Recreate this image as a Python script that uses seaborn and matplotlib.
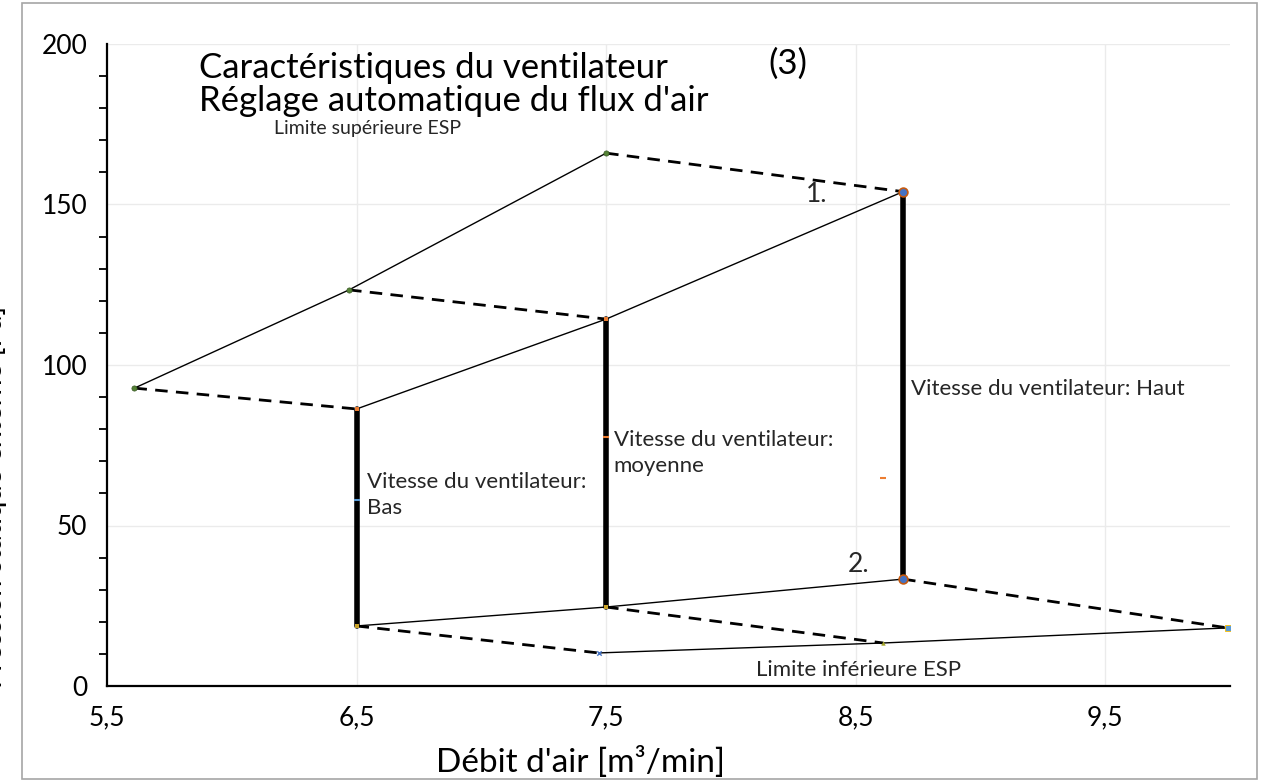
import numpy as np
import pandas as pd
import matplotlib
matplotlib.use("Agg")
import matplotlib.pyplot as plt
import matplotlib.patches as mpatches
from matplotlib.ticker import MultipleLocator, FuncFormatter
import seaborn as sns

# ---------------- data ----------------
upper_esp_x = [5.61, 6.47, 7.50]
upper_esp_y = [92.8, 123.4, 166.0]
top_curve_x = [6.50, 7.50, 8.69]
top_curve_y = [86.3, 114.3, 154.0]
bottom_curve_x = [6.50, 7.50, 8.69]
bottom_curve_y = [18.7, 24.6, 33.3]
lower_esp_x = [7.47, 8.61, 9.99]
lower_esp_y = [10.3, 13.4, 18.1]
mid_x = [6.50, 7.50, 8.61]
mid_y = [58.0, 77.6, 64.8]
mid_colors = ["#5b9bd5", "#ed7d31", "#ed7d31"]

x_ticks = [5.5, 6.5, 7.5, 8.5, 9.5]
y_ticks = [0, 50, 100, 150, 200]

title_lines = ["Caractéristiques du ventilateur", "Réglage automatique du flux d'air"]
speed_labels = ["Vitesse du ventilateur:\nBas", "Vitesse du ventilateur:\nmoyenne",
                "Vitesse du ventilateur: Haut"]

# ---------------- style ----------------
sns.set_theme(style="white")
plt.rcParams["font.family"] = ["Lato", "DejaVu Sans"]

W, H = 1274, 781
fig = plt.figure(figsize=(W / 100, H / 100), dpi=100)
ax = fig.add_axes([107 / W, 1 - 686 / H, (1230 - 107) / W, (686 - 44) / H])

ax.set_xlim(5.5, 10.0)
ax.set_ylim(0, 200)

grid_c = "#ebebeb"
for gx in x_ticks[1:]:
    ax.axvline(gx, color=grid_c, lw=1, zorder=0)
for gy in y_ticks[1:]:
    ax.axhline(gy, color=grid_c, lw=1, zorder=0)

solid_kw = dict(color="black", lw=1.0, sort=False, estimator=None)
dash_kw = dict(color="black", lw=2.0, sort=False, estimator=None,
               linestyle=(0, (4.5, 3)))

# thin solid curves
sns.lineplot(x=upper_esp_x, y=upper_esp_y, ax=ax, **solid_kw)
sns.lineplot(x=top_curve_x, y=top_curve_y, ax=ax, **solid_kw)
sns.lineplot(x=bottom_curve_x, y=bottom_curve_y, ax=ax, **solid_kw)
sns.lineplot(x=lower_esp_x, y=lower_esp_y, ax=ax, **solid_kw)

# dashed connectors and thick vertical fan speed lines
for i in range(3):
    sns.lineplot(x=[upper_esp_x[i], top_curve_x[i]], y=[upper_esp_y[i], top_curve_y[i]],
                 ax=ax, **dash_kw)
    sns.lineplot(x=[bottom_curve_x[i], lower_esp_x[i]], y=[bottom_curve_y[i], lower_esp_y[i]],
                 ax=ax, **dash_kw)
    sns.lineplot(x=[top_curve_x[i], bottom_curve_x[i]], y=[top_curve_y[i], bottom_curve_y[i]],
                 ax=ax, color="black", lw=4.0, sort=False, estimator=None)

# small markers
sns.scatterplot(x=upper_esp_x, y=upper_esp_y, ax=ax, color="#548235", s=14,
                edgecolor="#375623", linewidth=0.5, zorder=5)
sns.scatterplot(x=[top_curve_x[2], bottom_curve_x[2]], y=[top_curve_y[2], bottom_curve_y[2]],
                ax=ax, color="#4472c4", s=40, edgecolor="#c55a11", linewidth=1.2, zorder=6)
sns.scatterplot(x=top_curve_x[:2], y=top_curve_y[:2], ax=ax, color="#ed7d31", marker="s",
                s=6, linewidth=0, zorder=5)
sns.scatterplot(x=bottom_curve_x[:2], y=bottom_curve_y[:2], ax=ax, color="#c9a227", marker="s",
                s=8, linewidth=0, zorder=5)
sns.scatterplot(x=[lower_esp_x[0]], y=[lower_esp_y[0]], ax=ax, color="#4472c4", marker="x",
                s=10, linewidth=1, zorder=5)
sns.scatterplot(x=[lower_esp_x[1]], y=[lower_esp_y[1]], ax=ax, color="#a5a52a", marker="^",
                s=10, linewidth=0, zorder=5)
sns.scatterplot(x=[lower_esp_x[2]], y=[lower_esp_y[2]], ax=ax, color="#5b9bd5", marker="s",
                s=16, edgecolor="#ffc000", linewidth=0.6, zorder=5)
for mx, my, mc in zip(mid_x, mid_y, mid_colors):
    sns.scatterplot(x=[mx], y=[my], ax=ax, color=mc, marker="_", s=14, linewidth=1.5, zorder=5)

# ---------------- axes ----------------
for side in ["top", "right"]:
    ax.spines[side].set_visible(False)
for side in ["left", "bottom"]:
    ax.spines[side].set_color("black")
    ax.spines[side].set_linewidth(1.6)

ax.set_xticks(x_ticks)
ax.set_yticks(y_ticks)
ax.yaxis.set_minor_locator(MultipleLocator(10))
fmt = FuncFormatter(lambda v, p: (f"{v:g}").replace(".", ","))
ax.xaxis.set_major_formatter(fmt)
ax.yaxis.set_major_formatter(fmt)
ax.tick_params(axis="both", which="both", direction="out", color="black", width=1.3,
               labelsize=19, labelcolor="black")
ax.tick_params(axis="both", which="major", length=6)
ax.tick_params(axis="x", which="major", pad=8)
ax.tick_params(axis="y", which="minor", length=6, left=True)
ax.tick_params(axis="y", which="major", pad=8)

ax.set_xlabel("Débit d'air [m³/min]", fontsize=24, color="black")
ax.xaxis.set_label_coords((580 - 107) / 1123, -(762 - 686) / 642)
ax.xaxis.label.set_va("center")
fig.text(7 / W, 1 - 497 / H, "Pression statique externe [Pa]", rotation=90,
         ha="right", va="center", fontsize=21, color="black")

# ---------------- texts ----------------
ax.text(5.87, 197.5, "\n".join(title_lines), fontsize=25, color="black", va="top",
        ha="left", linespacing=1.05)
ax.text(8.15, 199, "(3)", fontsize=25, color="black", va="top", ha="left")
ax.text(6.17, 173.8, "Limite supérieure ESP", fontsize=14, va="center", ha="left")
ax.text(8.30, 153.0, "1.", fontsize=19, va="center", ha="left")
ax.text(8.72, 92.5, speed_labels[2], fontsize=16, va="center", ha="left")
ax.text(7.53, 72.5, speed_labels[1], fontsize=16, va="center", ha="left", linespacing=1.35)
ax.text(6.54, 59.5, speed_labels[0], fontsize=16, va="center", ha="left", linespacing=1.35)
ax.text(8.47, 37.7, "2.", fontsize=19, va="center", ha="left")
ax.text(8.10, 5.0, "Limite inférieure ESP", fontsize=16, va="center", ha="left")

# outer border
fig.patches.append(mpatches.Rectangle((22 / W, 1 - 779 / H), (1257 - 22) / W, (779 - 3) / H,
                                      transform=fig.transFigure, fill=False,
                                      edgecolor="#a6a6a6", lw=1.2, zorder=10))

fig.savefig("out.png", dpi=100)
